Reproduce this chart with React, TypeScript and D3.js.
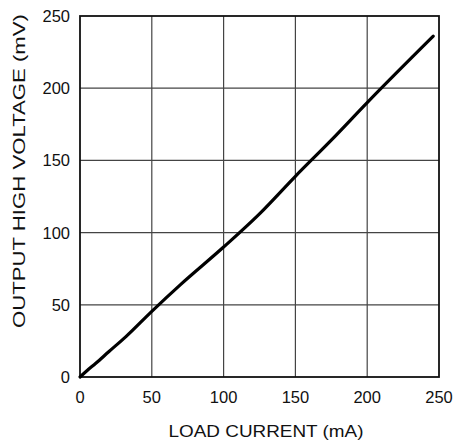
import React from 'react';
import * as d3 from 'd3';

// load current (mA) vs output high voltage (mV)
const loadCurrent = [0, 5, 11, 20, 32, 50, 70, 100, 125, 150, 175, 200, 246];
const outputHigh = [0, 4.5, 9.5, 17.5, 28, 45.5, 64, 90, 113, 139, 164, 190, 236];
const xTicks = [0, 50, 100, 150, 200, 250];
const yTicks = [0, 50, 100, 150, 200, 250];

const width = 456;
const height = 443;
const margin = { top: 16, right: 17, bottom: 66, left: 80 };

const App = () => {
  const x = d3.scaleLinear().domain([0, 250]).range([margin.left, width - margin.right]);
  const y = d3.scaleLinear().domain([0, 250]).range([height - margin.bottom, margin.top]);

  const points: [number, number][] = loadCurrent.map((c, i) => [c, outputHigh[i]]);
  const line = d3.line<[number, number]>()
    .x(d => x(d[0]))
    .y(d => y(d[1]))
    .curve(d3.curveMonotoneX);

  const font = '"Liberation Sans", Arial, sans-serif';
  const x0 = x(0), x1 = x(250), y0 = y(0), y1 = y(250);

  return (
    <svg width={width} height={height} style={{ position: 'absolute', left: 0, top: 0, background: '#fff' }}>
      {/* grid */}
      {xTicks.slice(1, -1).map(t => (
        <line key={'gx' + t} x1={x(t)} x2={x(t)} y1={y1} y2={y0} stroke="#444" strokeWidth={1.2} />
      ))}
      {yTicks.slice(1, -1).map(t => (
        <line key={'gy' + t} x1={x0} x2={x1} y1={y(t)} y2={y(t)} stroke="#444" strokeWidth={1.2} />
      ))}
      <rect x={x0} y={y1} width={x1 - x0} height={y0 - y1} fill="none" stroke="#111" strokeWidth={1.8} />

      <path d={line(points) || ''} fill="none" stroke="#000" strokeWidth={3.2} strokeLinecap="round" strokeLinejoin="round" />

      {/* tick labels */}
      {xTicks.map(t => (
        <text key={'tx' + t} x={x(t)} y={403} textAnchor="middle" fontFamily={font} fontSize={16.5} fill="#111">{t}</text>
      ))}
      {yTicks.map(t => (
        <text key={'ty' + t} x={x0 - 10} y={y(t) + 6} textAnchor="end" fontFamily={font} fontSize={16.5} fill="#111">{t}</text>
      ))}

      <text x={266} y={437} textAnchor="middle" fontFamily={font} fontSize={16.5} textLength={195} lengthAdjust="spacingAndGlyphs" fill="#111">LOAD CURRENT (mA)</text>
      <text transform="translate(25, 171) rotate(-90)" textAnchor="middle" fontFamily={font} fontSize={16.5} textLength={314} lengthAdjust="spacingAndGlyphs" fill="#111">OUTPUT HIGH VOLTAGE (mV)</text>
    </svg>
  );
};

export default App;
